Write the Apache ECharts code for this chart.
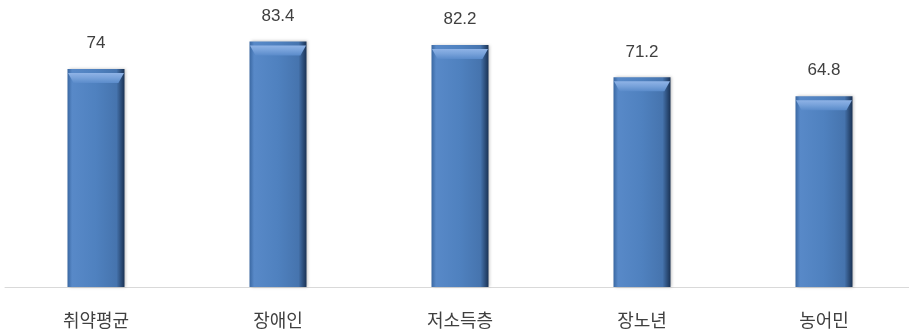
<!DOCTYPE html>
<html>
<head>
<meta charset="utf-8">
<script src="https://cdn.jsdelivr.net/npm/echarts@6/dist/echarts.min.js"></script>
<style>
    html, body { margin: 0; padding: 0; background: #fff; overflow: hidden; }
    #chart { width: 920px; height: 334px; }
</style>
</head>
<body>
<div id="chart"></div>
<script>
var categories = ['취약평균', '장애인', '저소득층', '장노년', '농어민'];
var values = [74, 83.4, 82.2, 71.2, 64.8];

var chart = echarts.init(document.getElementById('chart'));

var option = {
    animation: false,
    grid: {
        left: 5,
        width: 910,
        top: 22,
        bottom: 47,
        containLabel: false
    },
    xAxis: {
        type: 'category',
        data: categories,
        axisLine: {lineStyle: {color: '#d9d9d9', width: 1}},
        axisTick: {show: false},
        axisLabel: {
            color: '#404040',
            fontSize: 18,
            fontFamily: 'Noto Sans CJK KR',
            margin: 24
        }
    },
    yAxis: {
        type: 'value',
        min: 0,
        max: 90,
        show: false,
        splitLine: {show: false}
    },
    series: [
        {
            type: 'bar',
            data: values,
            barWidth: 57,
            z: 2,
            itemStyle: {
                color: {
                    type: 'linear', x: 0, y: 0, x2: 1, y2: 0,
                    colorStops: [
                        {offset: 0, color: '#3a68a2'},
                        {offset: 0.08, color: '#5889c8'},
                        {offset: 0.5, color: '#4f81bf'},
                        {offset: 0.86, color: '#4674ae'},
                        {offset: 1, color: '#1a3254'}
                    ]
                },
                shadowColor: 'rgba(0,0,0,0.25)',
                shadowBlur: 3,
                shadowOffsetX: 1
            },
            label: {
                show: true,
                position: 'top',
                distance: 17,
                color: '#404040',
                fontSize: 17,
                fontFamily: 'Liberation Sans'
            }
        },
        {
            // top bevel highlight
            type: 'pictorialBar',
            data: values,
            z: 3,
            silent: true,
            symbol: 'path://M0,0 L20,0 L18,2 L2,2 Z',
            symbolSize: [56, 10],
            symbolPosition: 'end',
            symbolOffset: [0, 4],
            itemStyle: {
                color: {
                    type: 'linear', x: 0, y: 0, x2: 0, y2: 1,
                    colorStops: [
                        {offset: 0, color: '#8fb3e6'},
                        {offset: 0.45, color: '#79a3db'},
                        {offset: 1, color: '#5a8bca'}
                    ]
                }
            }
        }
    ]
};

chart.setOption(option);
</script>
</body>
</html>
